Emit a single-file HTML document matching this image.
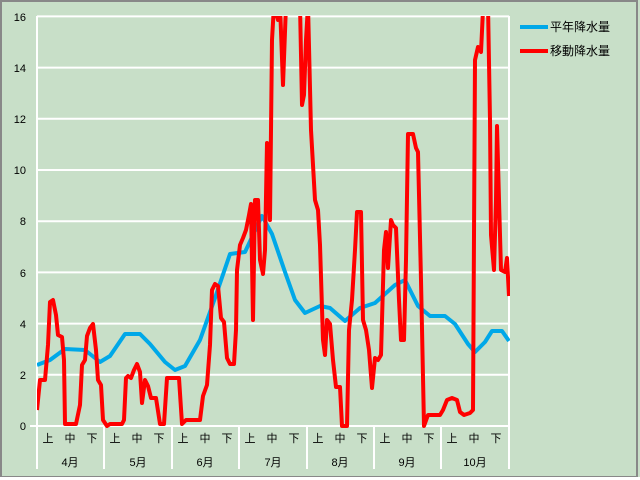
<!DOCTYPE html>
<html><head><meta charset="utf-8"><style>
body{margin:0;background:#fff}
svg{display:block;font-family:"Liberation Sans","Noto Sans CJK JP",sans-serif}
</style></head><body>
<svg width="640" height="480" viewBox="0 0 640 480">
<rect x="0" y="0" width="640" height="480" fill="#c8dfc8"/>
<rect x="1" y="1" width="636" height="476" fill="none" stroke="#888" stroke-width="2"/>
<line x1="0" y1="478.5" x2="640" y2="478.5" stroke="#fff" stroke-width="3"/>
<defs><clipPath id="c"><rect x="37" y="16" width="473" height="412"/></clipPath></defs>
<g stroke="#fff" stroke-width="2">
<line x1="30" y1="426" x2="509" y2="426"/>
<line x1="37" y1="374.8" x2="509" y2="374.8"/>
<line x1="37" y1="323.6" x2="509" y2="323.6"/>
<line x1="37" y1="272.4" x2="509" y2="272.4"/>
<line x1="37" y1="221.2" x2="509" y2="221.2"/>
<line x1="37" y1="170" x2="509" y2="170"/>
<line x1="37" y1="118.8" x2="509" y2="118.8"/>
<line x1="37" y1="67.6" x2="509" y2="67.6"/>
<line x1="37" y1="16.4" x2="509" y2="16.4"/>
<line x1="37" y1="16" x2="37" y2="469"/>
<line x1="509" y1="16" x2="509" y2="469"/>
<line x1="104" y1="426" x2="104" y2="469"/>
<line x1="172" y1="426" x2="172" y2="469"/>
<line x1="239" y1="426" x2="239" y2="469"/>
<line x1="307" y1="426" x2="307" y2="469"/>
<line x1="374" y1="426" x2="374" y2="469"/>
<line x1="441" y1="426" x2="441" y2="469"/>
</g>
<g font-size="11" fill="#000" text-anchor="end">
<text x="26" y="430">0</text><text x="26" y="379">2</text><text x="26" y="328">4</text>
<text x="26" y="277">6</text><text x="26" y="225">8</text><text x="26" y="174">10</text>
<text x="26" y="123">12</text><text x="26" y="72">14</text><text x="26" y="21">16</text>
</g>
<g font-size="11" fill="#000" text-anchor="middle">
<text x="48" y="442">上</text><text x="70" y="442">中</text><text x="92" y="442">下</text>
<text x="115" y="442">上</text><text x="137" y="442">中</text><text x="159" y="442">下</text>
<text x="183" y="442">上</text><text x="205" y="442">中</text><text x="227" y="442">下</text>
<text x="250" y="442">上</text><text x="272" y="442">中</text><text x="294" y="442">下</text>
<text x="318" y="442">上</text><text x="340" y="442">中</text><text x="362" y="442">下</text>
<text x="385" y="442">上</text><text x="407" y="442">中</text><text x="429" y="442">下</text>
<text x="452" y="442">上</text><text x="474" y="442">中</text><text x="496" y="442">下</text>
<text x="70" y="466">4月</text><text x="138" y="466">5月</text><text x="205" y="466">6月</text>
<text x="273" y="466">7月</text><text x="340" y="466">8月</text><text x="407" y="466">9月</text>
<text x="475" y="466">10月</text>
</g>
<g clip-path="url(#c)" fill="none" stroke-width="4" stroke-linejoin="round">
<polyline stroke="#00a8e8" points="37,365 50,360 65,349 85,350 100,362 110,356 125,334 140,334 150,344 165,362 175,370 185,366 200,340 215,298 230,254 245,252 262,216 272,234 285,272 295,300 305,313 320,306 330,308 345,321 360,308 375,303 395,285 405,280 418,306 430,316 445,316 455,324 468,344 475,352 485,342 492,331 502,331 509,341"/>
<polyline stroke="#f00" points="37,410 40,380 45,380 48,345 50,302 53,300 56,315 58,335 62,337 64,360 65,424 70,424 76,424 80,405 82,365 85,360 87,336 90,328 93,324 96,350 98,380 101,385 103,420 107,426 110,424 115,424 122,424 124,420 126,378 128,376 131,378 134,370 137,364 140,372 142,403 145,380 148,386 151,398 156,398 160,424 164,424 167,378 170,378 175,378 179,378 182,424 186,420 190,420 195,420 200,420 203,396 207,385 210,345 212,290 215,284 218,286 221,318 224,322 227,358 230,364 234,364 236,330 237,270 240,245 243,238 246,230 249,215 251,204 253,320 255,200 258,200 260,260 263,274 265,250 267,143 270,220 272,40 274,5 278,20 280,5 283,85 286,5 300,5 302,105 304,95 306,40 308,5 311,130 315,200 318,210 320,245 323,340 325,355 327,320 330,324 333,360 336,387 340,387 342,426 347,426 349,330 352,300 355,250 357,212 361,212 363,320 366,330 369,350 372,388 375,358 378,360 381,355 384,250 386,232 388,268 391,220 393,225 396,228 399,300 401,340 404,340 406,260 408,134 413,134 416,148 418,152 421,280 424,426 428,415 433,415 440,415 443,410 447,400 452,398 457,400 460,412 464,415 470,413 473,410 475,60 478,47 481,52 483,10 486,5 488,5 490,120 491,235 494,270 496,200 497,126 499,200 501,270 505,272 507,258 509,296"/>
</g>
<line x1="520" y1="27" x2="548" y2="27" stroke="#00a8e8" stroke-width="4"/>
<line x1="520" y1="51" x2="548" y2="51" stroke="#f00" stroke-width="4"/>
<g font-size="12" fill="#000">
<text x="550" y="31">平年降水量</text>
<text x="550" y="55">移動降水量</text>
</g>
</svg>
</body></html>
